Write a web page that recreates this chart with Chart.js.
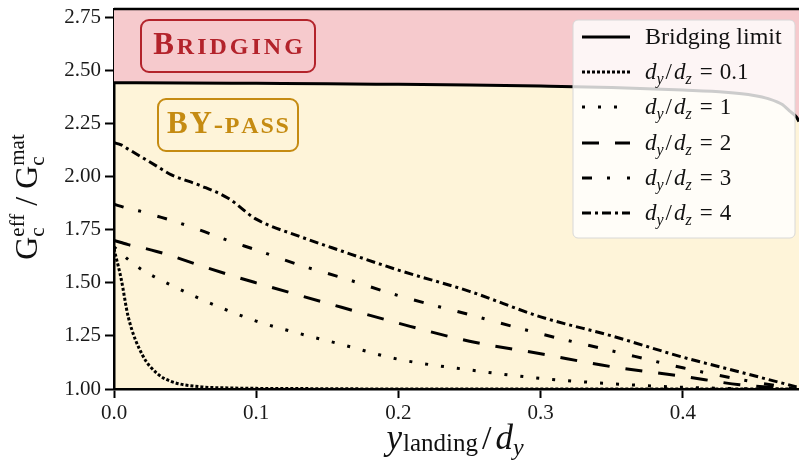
<!DOCTYPE html>
<html>
<head>
<meta charset="utf-8">
<script src="https://cdn.jsdelivr.net/npm/chart.js@4.4.0/dist/chart.umd.min.js"></script>
<style>
  html, body { margin: 0; padding: 0; background: #fff; }
  #wrap { width: 799px; height: 466px; }
</style>
</head>
<body>
<div id="wrap"><canvas id="chart" width="799" height="466"></canvas></div>
<script>
// y_landing / d_y
const landing = [0, 0.005, 0.01, 0.02, 0.03, 0.04, 0.06, 0.08, 0.1, 0.13, 0.16, 0.2, 0.25, 0.3, 0.35, 0.4, 0.44, 0.48];

// Gc_eff / Gc_mat for each d_y/d_z
const ratio01 = [1.66, 1.52, 1.34, 1.16, 1.075, 1.036, 1.011, 1.005, 1.003, 1.002, 1.001, 1.0, 1.0, 1.0, 1.0, 1.0, 1.0, 1.0];
const ratio1 = [1.67, 1.64, 1.61, 1.56, 1.523, 1.49, 1.427, 1.37, 1.32, 1.262, 1.21, 1.14, 1.09, 1.05, 1.025, 1.008, 1.002, 1.0];
const ratio2 = [1.70, 1.69, 1.68, 1.665, 1.648, 1.628, 1.583, 1.54, 1.50, 1.442, 1.385, 1.31, 1.225, 1.166, 1.105, 1.06, 1.02, 1.0];
const ratio3 = [1.87, 1.86, 1.85, 1.835, 1.815, 1.795, 1.75, 1.70, 1.655, 1.585, 1.525, 1.44, 1.35, 1.26, 1.18, 1.10, 1.045, 1.0];
const ratio4 = [2.16, 2.15, 2.13, 2.09, 2.05, 2.01, 1.96, 1.90, 1.80, 1.72, 1.65, 1.56, 1.46, 1.34, 1.25, 1.15, 1.08, 1.01];

// bridging limit
const bridgingX = [0, 0.05, 0.1, 0.15, 0.2, 0.25, 0.3, 0.35, 0.4, 0.43, 0.45, 0.46, 0.47, 0.475, 0.48, 0.4817];
const bridgingLimit = [2.443, 2.442, 2.44, 2.438, 2.435, 2.432, 2.427, 2.42, 2.408, 2.398, 2.383, 2.368, 2.34, 2.31, 2.28, 2.26];

const ratioLabels = ["0.1", "1", "2", "3", "4"];
const ratioSeries = [ratio01, ratio1, ratio2, ratio3, ratio4];
const dashes = [[3, 2], [3, 13], [17, 16], [10, 15, 3, 17], [9, 4, 3, 4]];

const SERIF = '"Liberation Serif", "DejaVu Serif", serif';
const PINK = '#f6cacd';
const YELLOW = '#fef4d9';

function pts(xs, ys) {
  return xs.map((x, i) => ({ x: x, y: ys[i] }));
}

// draw a run of text pieces: [text, size, style, dy, extra gap after]
function drawRun(ctx, pieces, x, y, align) {
  let total = 0;
  const widths = pieces.map(p => {
    ctx.font = (p[2] || '') + ' ' + p[1] + 'px ' + SERIF;
    const w = ctx.measureText(p[0]).width + (p[4] || 0);
    total += w;
    return w;
  });
  let cx = align === 'center' ? x - total / 2 : x;
  ctx.textAlign = 'left';
  ctx.textBaseline = 'alphabetic';
  pieces.forEach((p, i) => {
    ctx.font = (p[2] || '') + ' ' + p[1] + 'px ' + SERIF;
    ctx.fillText(p[0], cx, y + (p[3] || 0));
    cx += widths[i];
  });
}

// spaced letters for the small caps labels
function drawCaps(ctx, parts, cx, baseline, spacing, color) {
  ctx.fillStyle = color;
  ctx.textAlign = 'left';
  ctx.textBaseline = 'alphabetic';
  const chars = [];
  parts.forEach(p => { for (const ch of p[0]) chars.push([ch, p[1]]); });
  let total = 0;
  chars.forEach((c, i) => {
    ctx.font = 'bold ' + c[1] + 'px ' + SERIF;
    c.push(ctx.measureText(c[0]).width);
    total += c[2] + (i < chars.length - 1 ? spacing : 0);
  });
  let x = cx - total / 2;
  chars.forEach(c => {
    ctx.font = 'bold ' + c[1] + 'px ' + SERIF;
    ctx.fillText(c[0], x, baseline);
    x += c[2] + spacing;
  });
}

function roundBox(ctx, x, y, w, h, r, stroke, fill, lw) {
  ctx.beginPath();
  ctx.roundRect(x, y, w, h, r);
  if (fill) { ctx.fillStyle = fill; ctx.fill(); }
  if (stroke) { ctx.strokeStyle = stroke; ctx.lineWidth = lw; ctx.stroke(); }
}

const decor = {
  id: 'decor',
  beforeDraw(chart) {
    const { ctx, chartArea: a } = chart;
    ctx.save();
    ctx.fillStyle = YELLOW;
    ctx.fillRect(a.left, a.top, a.right - a.left, a.bottom - a.top);
    ctx.restore();
  },
  afterDatasetsDraw(chart) {
    const { ctx, chartArea: a } = chart;
    ctx.save();
    // top frame line
    ctx.strokeStyle = '#000';
    ctx.lineWidth = 2.5;
    ctx.beginPath();
    ctx.moveTo(a.left, a.top);
    ctx.lineTo(a.right, a.top);
    ctx.stroke();

    roundBox(ctx, 141, 20, 174, 52, 8, '#b3232b', null, 2);
    drawCaps(ctx, [['B', 31], ['RIDGING', 24]], 228, 54, 3, '#b3232b');
    roundBox(ctx, 158, 99, 140, 52, 8, '#c58b12', null, 2);
    drawCaps(ctx, [['BY', 31], ['-', 28], ['PASS', 24]], 228, 133, 1.8, '#c58b12');
    ctx.restore();
  },
  afterDraw(chart) {
    const { ctx } = chart;
    ctx.save();
    // legend
    roundBox(ctx, 573, 20, 222, 218, 5, '#d8d8d8', 'rgba(255,255,255,0.8)', 1);
    const rows = [37, 72, 107, 143, 178, 213];
    ctx.strokeStyle = '#000';
    ctx.lineWidth = 3;
    ctx.lineCap = 'butt';
    const allDash = [[]].concat(dashes);
    rows.forEach((ry, i) => {
      ctx.setLineDash(allDash[i]);
      ctx.beginPath();
      ctx.moveTo(582, ry);
      ctx.lineTo(630, ry);
      ctx.stroke();
    });
    ctx.setLineDash([]);
    ctx.fillStyle = '#111';
    drawRun(ctx, [['Bridging limit', 24]], 645, rows[0] + 7);
    ratioLabels.forEach((lab, i) => {
      const b = rows[i + 1] + 7;
      drawRun(ctx, [
        ['d', 23, 'italic'], ['y', 16, 'italic', 5, 2], ['/', 23, '', 0, 2],
        ['d', 23, 'italic'], ['z', 16, 'italic', 5, 8], ['=', 23, '', 0, 7], [lab, 23]
      ], 645, b);
    });

    // axis titles
    ctx.fillStyle = '#111';
    drawRun(ctx, [
      ['y', 35, 'italic', 0, 1], ['landing', 25, '', 2, 4], ['/', 34, '', 0, 4], ['d', 35, 'italic'], ['y', 24, 'italic', 6]
    ], 455, 449, 'center');

    ctx.translate(37, 197);
    ctx.rotate(-Math.PI / 2);
    // G_c^eff / G_c^mat, sub and sup share the same x
    ctx.font = '32px ' + SERIF;
    const gW = ctx.measureText('G').width;
    ctx.font = '21px ' + SERIF;
    const effW = ctx.measureText('eff').width;
    const matW = ctx.measureText('mat').width;
    ctx.font = '32px ' + SERIF;
    const slashW = ctx.measureText(' / ').width;
    const total = gW + effW + slashW + gW + matW;
    let x = -total / 2;
    ctx.fillText('G', x, 0); x += gW;
    ctx.font = '21px ' + SERIF;
    ctx.fillText('c', x, 7);
    ctx.fillText('eff', x, -13); x += effW;
    ctx.font = '32px ' + SERIF;
    ctx.fillText(' / ', x, 0); x += slashW;
    ctx.fillText('G', x, 0); x += gW;
    ctx.font = '21px ' + SERIF;
    ctx.fillText('c', x, 7);
    ctx.fillText('mat', x, -13);
    ctx.restore();
  }
};

const datasets = [{
  label: 'Bridging limit',
  data: pts(bridgingX, bridgingLimit),
  borderColor: '#000',
  borderWidth: 3,
  pointRadius: 0,
  fill: 'end',
  backgroundColor: PINK,
  cubicInterpolationMode: 'monotone'
}];
ratioSeries.forEach((vals, i) => {
  datasets.push({
    label: 'd_y/d_z = ' + ratioLabels[i],
    data: pts(landing, vals),
    borderColor: '#000',
    borderWidth: 3,
    borderDash: dashes[i],
    borderCapStyle: 'butt',
    pointRadius: 0,
    fill: false,
    cubicInterpolationMode: 'monotone'
  });
});

const axisCommon = {
  type: 'linear',
  grid: { drawOnChartArea: false, drawTicks: true, tickLength: 9, tickWidth: 2, tickColor: '#000' },
  border: { display: true, color: '#000', width: 2.5 },
  title: { display: false }
};

new Chart(document.getElementById('chart').getContext('2d'), {
  type: 'line',
  data: { datasets: datasets },
  options: {
    responsive: false,
    animation: false,
    devicePixelRatio: 1,
    layout: { padding: { top: 9, right: 0, left: 0, bottom: 0 } },
    plugins: { legend: { display: false }, tooltip: { enabled: false } },
    scales: {
      x: Object.assign({}, axisCommon, {
        min: 0,
        max: 0.4817,
        ticks: {
          stepSize: 0.1,
          includeBounds: false,
          maxRotation: 0,
          padding: 3,
          color: '#1a1a1a',
          font: { family: SERIF, size: 21 },
          callback: v => v.toFixed(1)
        },
        afterFit: s => { s.height = 77; s.paddingRight = 0; }
      }),
      y: Object.assign({}, axisCommon, {
        min: 1,
        max: 2.79,
        ticks: {
          stepSize: 0.25,
          includeBounds: false,
          padding: 4,
          color: '#1a1a1a',
          font: { family: SERIF, size: 21 },
          callback: v => v.toFixed(2)
        },
        afterFit: s => { s.width = 114; s.paddingTop = 0; s.paddingBottom = 0; }
      })
    }
  },
  plugins: [decor]
});
</script>
</body>
</html>
